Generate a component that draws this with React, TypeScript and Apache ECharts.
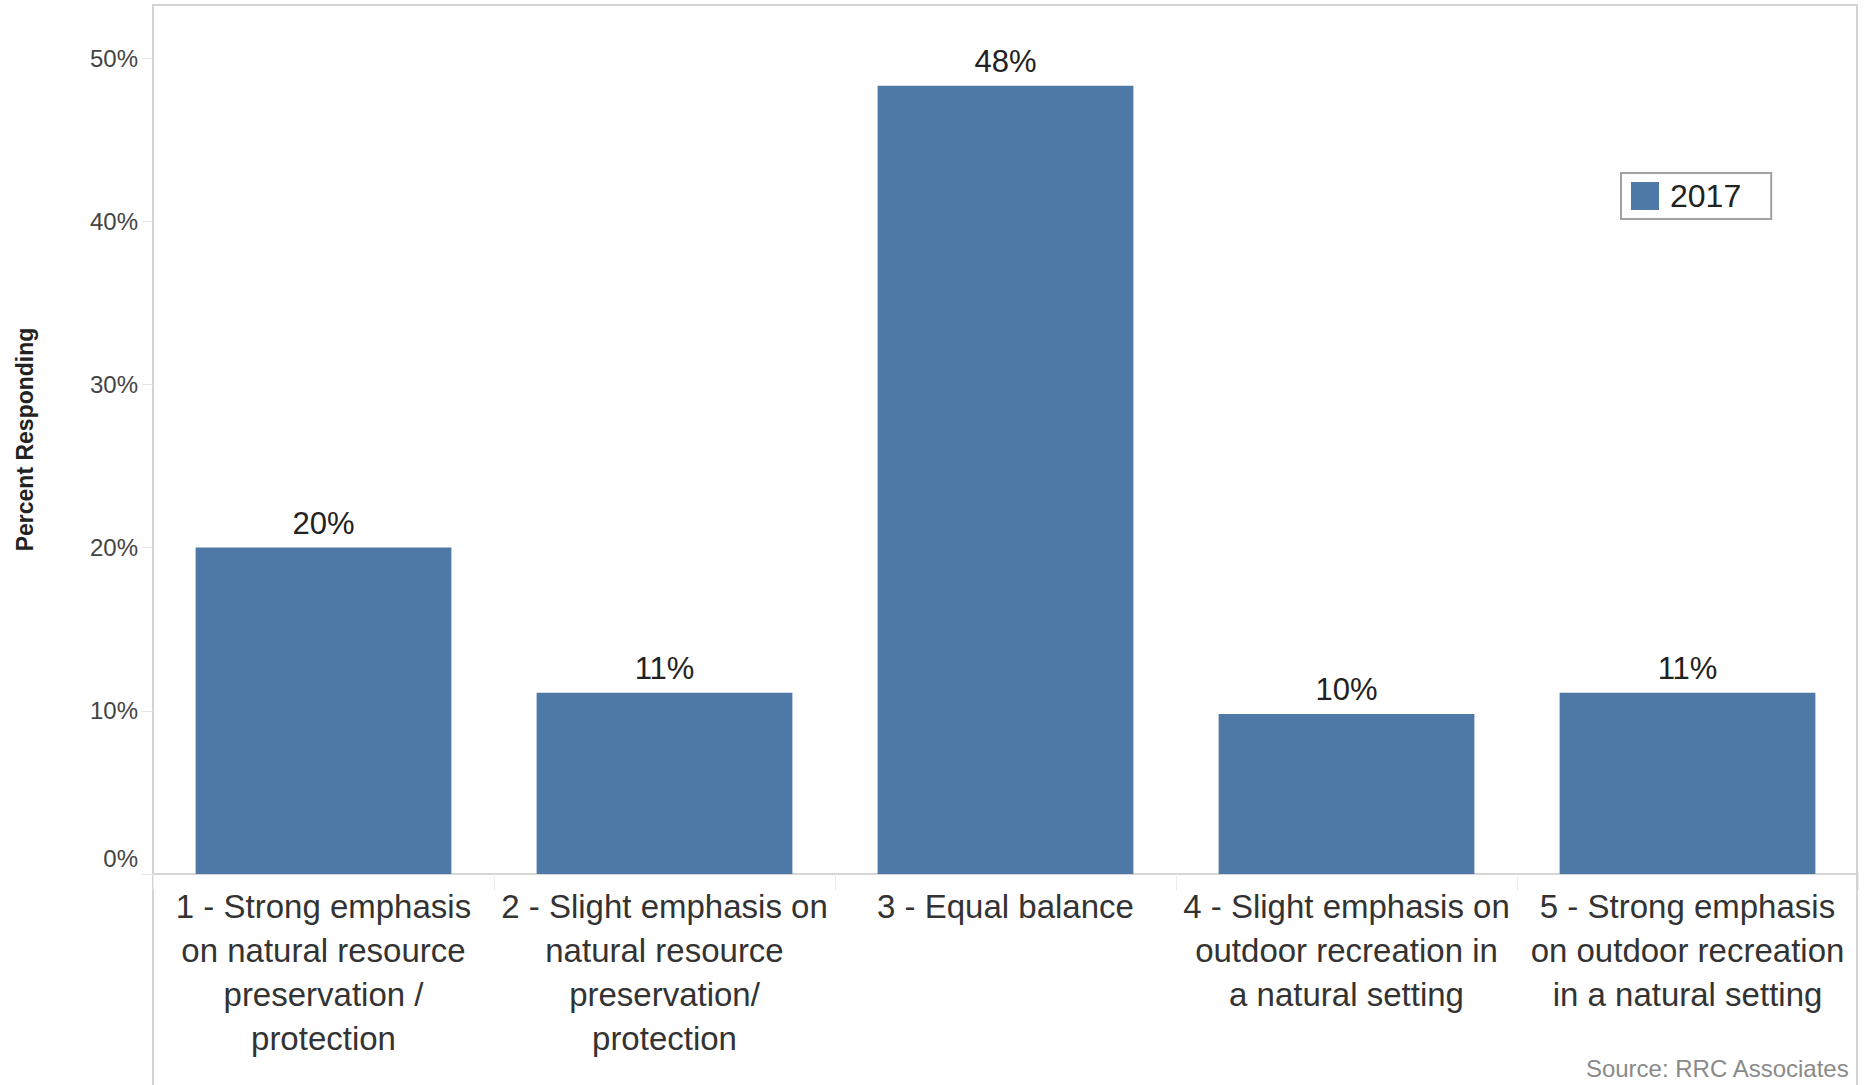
import React, { useEffect, useRef } from "react";
import * as echarts from "echarts";

const categories = [
  "1 - Strong emphasis\non natural resource\npreservation /\nprotection",
  "2 - Slight emphasis on\nnatural resource\npreservation/\nprotection",
  "3 - Equal balance",
  "4 - Slight emphasis on\noutdoor recreation in\na natural setting",
  "5 - Strong emphasis\non outdoor recreation\nin a natural setting",
];
const values2017 = [20.0, 11.1, 48.3, 9.8, 11.1];
const yTicks = [0, 10, 20, 30, 40, 50];
const seriesName = "2017";
const sourceText = "Source: RRC Associates";
const yTitle = "Percent Responding";

const FONT = "'Liberation Sans', Arial, sans-serif";
const BLUE = "#4e79a7";

export default function App() {
  const ref = useRef<HTMLDivElement>(null);
  useEffect(() => {
    if (!ref.current) return;
    const chart = echarts.init(ref.current, undefined, { renderer: "svg" });
    chart.setOption({
      animation: false,
      backgroundColor: "#ffffff",
      textStyle: { fontFamily: FONT },
      grid: { left: 153, right: 8, top: 5, bottom: 211, containLabel: false },
      legend: {
        show: true,
        left: 1621,
        top: 173,
        padding: [7, 30, 7, 10],
        borderColor: "#a0a0a0",
        borderWidth: 2,
        itemWidth: 28,
        itemHeight: 28,
        icon: "rect",
        data: [seriesName],
        textStyle: {
          fontSize: 32,
          lineHeight: 32,
          color: "#222",
          fontFamily: FONT,
          padding: [0, 0, 0, 6],
        },
      },
      xAxis: {
        type: "category",
        data: categories,
        axisLine: { show: true, lineStyle: { color: "#d6d6d6", width: 2 } },
        axisTick: { show: true, length: 16, lineStyle: { color: "#ececec", width: 1 } },
        axisLabel: {
          interval: 0,
          margin: 10,
          fontSize: 33,
          lineHeight: 44,
          color: "#333",
          fontFamily: FONT,
          align: "center",
        },
      },
      yAxis: {
        type: "value",
        min: 0,
        max: 53.25,
        interval: 10,
        name: yTitle,
        nameLocation: "middle",
        nameRotate: 90,
        nameGap: 117,
        nameTextStyle: {
          fontSize: 23,
          fontWeight: "bold",
          color: "#222",
          fontFamily: FONT,
        },
        axisLine: { show: false },
        splitLine: { show: false },
        axisTick: {
          show: true,
          length: 11,
          customValues: yTicks,
          lineStyle: { color: "#e4e4e4", width: 1 },
        },
        axisLabel: {
          customValues: yTicks,
          margin: 15,
          fontSize: 24,
          color: "#444",
          fontFamily: FONT,
          formatter: (v: number) => (v === 0 ? "{z|0%}" : `${Math.round(v)}%`),
          rich: {
            z: { fontSize: 24, color: "#444", fontFamily: FONT, padding: [0, 0, 32, 0] },
          },
        },
      },
      series: [
        {
          name: seriesName,
          type: "bar",
          data: values2017,
          barWidth: "75%",
          itemStyle: { color: BLUE },
          label: {
            show: true,
            position: "top",
            distance: 9,
            fontSize: 31,
            color: "#222",
            fontFamily: FONT,
            formatter: (p: any) => `${Math.round(p.value)}%`,
          },
        },
      ],
      graphic: [
        {
          type: "polyline",
          silent: true,
          shape: {
            points: [
              [153, 1085],
              [153, 5],
              [1857, 5],
              [1857, 1085],
            ],
          },
          style: { stroke: "#d4d4d4", lineWidth: 2, fill: null },
        },
        {
          type: "text",
          right: 16,
          top: 1056,
          style: {
            text: sourceText,
            fontSize: 24,
            fill: "#8a8a8a",
            fontFamily: FONT,
          },
        },
      ],
    });
    return () => chart.dispose();
  }, []);
  return (
    <div
      ref={ref}
      style={{ position: "absolute", left: 0, top: 0, width: 1866, height: 1085 }}
    />
  );
}
